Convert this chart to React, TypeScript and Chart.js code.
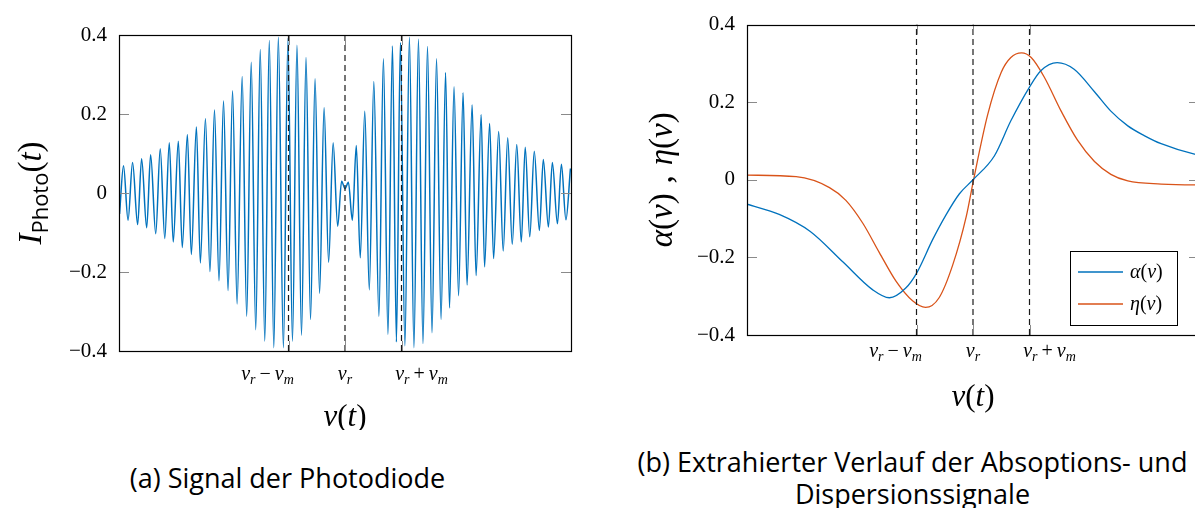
import React, { useEffect, useRef } from 'react';
import { Chart, registerables } from 'chart.js';

Chart.register(...registerables);

// ---------- data ----------
const xMin = -4;
const xMax = 4;
const yMin = -0.4;
const yMax = 0.4;
const yStep = 0.2;

const markerX = [-1, 0, 1];
const markerLabels = ['ν_r − ν_m', 'ν_r', 'ν_r + ν_m'];

// photodiode signal (extrema)
const signalX = [-3.99, -3.92, -3.84, -3.76, -3.67, -3.6, -3.51, -3.44, -3.35, -3.27, -3.19, -3.11, -3.04, -2.95, -2.88, -2.79, -2.72, -2.63, -2.56, -2.47, -2.39, -2.31, -2.23, -2.15, -2.07, -1.99, -1.91, -1.82, -1.74, -1.66, -1.58, -1.5, -1.42, -1.34, -1.26, -1.18, -1.09, -1.01, -0.93, -0.85, -0.77, -0.69, -0.61, -0.53, -0.45, -0.37, -0.29, -0.21, -0.13, -0.06, 0.0, 0.06, 0.13, 0.2, 0.27, 0.35, 0.43, 0.51, 0.6, 0.68, 0.76, 0.84, 0.91, 0.98, 1.06, 1.14, 1.22, 1.3, 1.38, 1.46, 1.54, 1.62, 1.7, 1.78, 1.85, 1.93, 2.01, 2.09, 2.16, 2.25, 2.32, 2.41, 2.47, 2.56, 2.63, 2.72, 2.8, 2.88, 2.96, 3.04, 3.12, 3.19, 3.27, 3.35, 3.44, 3.51, 3.6, 3.67, 3.76, 3.83, 3.91, 3.99];
const signalY = [-0.053, 0.069, -0.069, 0.077, -0.08, 0.087, -0.088, 0.097, -0.103, 0.112, -0.115, 0.127, -0.124, 0.131, -0.138, 0.148, -0.156, 0.167, -0.177, 0.188, -0.199, 0.21, -0.222, 0.233, -0.247, 0.259, -0.281, 0.295, -0.312, 0.331, -0.346, 0.363, -0.375, 0.386, -0.392, 0.394, -0.392, 0.391, -0.375, 0.374, -0.36, 0.343, -0.32, 0.289, -0.254, 0.216, -0.175, 0.127, -0.084, 0.03, 0.011, 0.027, -0.069, 0.12, -0.164, 0.207, -0.245, 0.282, -0.312, 0.34, -0.358, 0.372, -0.377, 0.381, -0.387, 0.394, -0.392, 0.389, -0.381, 0.371, -0.354, 0.34, -0.32, 0.305, -0.291, 0.269, -0.26, 0.254, -0.233, 0.223, -0.209, 0.198, -0.187, 0.176, -0.166, 0.156, -0.147, 0.14, -0.13, 0.123, -0.124, 0.116, -0.111, 0.106, -0.095, 0.085, -0.086, 0.077, -0.078, 0.073, -0.068, 0.062];

// absorption alpha(nu)
const alphaX = [-4, -3.43, -2.88, -2.3, -1.78, -1.48, -1.19, -1.0, -0.71, -0.48, -0.24, 0, 0.38, 0.67, 1.0, 1.2, 1.49, 1.79, 2.15, 2.44, 2.74, 3.03, 3.33, 3.92, 4];
const alphaY = [-0.063, -0.089, -0.133, -0.212, -0.283, -0.304, -0.279, -0.241, -0.153, -0.091, -0.036, 0, 0.062, 0.152, 0.239, 0.281, 0.302, 0.285, 0.227, 0.177, 0.139, 0.114, 0.093, 0.066, 0.064];

// dispersion eta(nu)
const etaX = [-4, -3.13, -2.54, -2.25, -1.95, -1.66, -1.36, -1.07, -0.84, -0.6, -0.36, -0.12, 0.01, 0.26, 0.5, 0.67, 0.86, 1.03, 1.26, 1.56, 1.85, 2.15, 2.44, 2.74, 3.33, 3.92, 4];
const etaY = [0.012, 0.008, -0.02, -0.053, -0.112, -0.187, -0.262, -0.312, -0.329, -0.304, -0.22, -0.095, 0, 0.168, 0.277, 0.315, 0.327, 0.315, 0.265, 0.177, 0.102, 0.047, 0.014, -0.003, -0.011, -0.013, -0.013];

const seriesLabels = ['α(ν)', 'η(ν)'];
const xTitle = 'ν(t)';
const yTitleB = 'α(ν) , η(ν)';
const captionA = '(a) Signal der Photodiode';
const captionB1 = '(b) Extrahierter Verlauf der Absoptions- und';
const captionB2 = 'Dispersionssignale';

// ---------- styling ----------
const BLUE = '#0072BD';
const ORANGE = '#D95319';
const SERIF = '"Liberation Serif", "DejaVu Serif", serif';
const SANS = '"Open Sans", "Liberation Sans", sans-serif';
const TICK_FONT = 21;
const MARKER_FONT = 20;
const markerLabelShift = [-21, 0, 20];

type Run = { t: string; f: string; dy?: number; w?: number };

function mathRuns(str: string, size: number, space = 0.22): Run[] {
  const runs: Run[] = [];
  for (let i = 0; i < str.length; i++) {
    const c = str[i];
    if (c === '_') {
      const s = str[i + 1];
      runs.push({ t: s, f: `italic ${Math.round(size * 0.7)}px ${SERIF}`, dy: size * 0.22 });
      i++;
      continue;
    }
    if (c === ' ') {
      runs.push({ t: '', f: `${size}px ${SERIF}`, w: size * space });
      continue;
    }
    if (/[A-Za-zα-ωΑ-Ω]/.test(c)) runs.push({ t: c, f: `italic ${size}px ${SERIF}` });
    else runs.push({ t: c, f: `${size}px ${SERIF}` });
  }
  return runs;
}

function runWidth(ctx: CanvasRenderingContext2D, r: Run) {
  if (r.w !== undefined) return r.w;
  ctx.font = r.f;
  return ctx.measureText(r.t).width;
}

function drawRuns(ctx: CanvasRenderingContext2D, runs: Run[], x: number, y: number, align: 'center' | 'left') {
  ctx.textBaseline = 'alphabetic';
  ctx.textAlign = 'left';
  let total = 0;
  for (const r of runs) total += runWidth(ctx, r);
  let cx = align === 'center' ? x - total / 2 : x;
  for (const r of runs) {
    const w = runWidth(ctx, r);
    if (r.t) {
      ctx.font = r.f;
      ctx.fillText(r.t, cx, y + (r.dy || 0));
    }
    cx += w;
  }
}

function fmtTick(v: number | string) {
  const n = Number(v);
  if (Math.abs(n) < 1e-9) return '0';
  return (n < 0 ? '\u2212' : '') + Math.abs(n).toFixed(1);
}

type DecorCfg = {
  tickLabelDy: number;
  titleDy: number;
  yTitle: Run[];
  yTitleX: number;
  legend: boolean;
};

function decorPlugin(cfg: DecorCfg) {
  return {
    id: 'decor',
    afterDatasetsDraw(chart: any) {
      const ctx: CanvasRenderingContext2D = chart.ctx;
      const a = chart.chartArea;
      const xs = chart.scales.x;
      const ys = chart.scales.y;
      ctx.save();
      // inward ticks
      ctx.strokeStyle = '#8a8a8a';
      ctx.lineWidth = 1;
      ctx.beginPath();
      for (const t of ys.ticks) {
        const py = Math.round(ys.getPixelForValue(t.value)) + 0.5;
        ctx.moveTo(a.left, py);
        ctx.lineTo(a.left + 10, py);
        ctx.moveTo(a.right, py);
        ctx.lineTo(a.right - 10, py);
      }
      for (const v of markerX) {
        const px = Math.round(xs.getPixelForValue(v)) + 0.5;
        ctx.moveTo(px, a.bottom);
        ctx.lineTo(px, a.bottom - 10);
        ctx.moveTo(px, a.top);
        ctx.lineTo(px, a.top + 10);
      }
      ctx.stroke();
      // frame
      ctx.strokeStyle = '#000';
      ctx.lineWidth = 1.2;
      ctx.strokeRect(Math.round(a.left) + 0.5, Math.round(a.top) + 0.5, Math.round(a.right - a.left), Math.round(a.bottom - a.top));
      // x tick labels
      ctx.fillStyle = '#000';
      markerX.forEach((v, i) => {
        drawRuns(ctx, mathRuns(markerLabels[i], MARKER_FONT, 0.2), xs.getPixelForValue(v) + markerLabelShift[i], a.bottom + cfg.tickLabelDy, 'center');
      });
      // x title
      drawRuns(ctx, mathRuns(xTitle, 31), xs.getPixelForValue(0), a.bottom + cfg.titleDy, 'center');
      // y title
      ctx.save();
      ctx.translate(cfg.yTitleX, (a.top + a.bottom) / 2);
      ctx.rotate(-Math.PI / 2);
      drawRuns(ctx, cfg.yTitle, 0, 10, 'center');
      ctx.restore();
      // legend
      if (cfg.legend) {
        const w = 107;
        const h = 74;
        const bx = a.right - 22 - w;
        const by = a.bottom - 10 - h;
        ctx.fillStyle = '#fff';
        ctx.fillRect(bx, by, w, h);
        ctx.strokeStyle = '#000';
        ctx.lineWidth = 1;
        ctx.strokeRect(Math.round(bx) + 0.5, Math.round(by) + 0.5, w, h);
        const ds = chart.data.datasets.filter((d: any) => d.inLegend);
        ds.forEach((d: any, i: number) => {
          const ly = by + 21 + i * 32;
          ctx.strokeStyle = d.borderColor;
          ctx.lineWidth = 1.3;
          ctx.beginPath();
          ctx.moveTo(bx + 8, ly);
          ctx.lineTo(bx + 53, ly);
          ctx.stroke();
          ctx.fillStyle = '#000';
          drawRuns(ctx, mathRuns(d.label, 20), bx + 60, ly + 6, 'left');
        });
      }
      ctx.restore();
    },
  };
}

function markerDatasets() {
  return markerX.map((v) => ({
    label: 'marker',
    data: [
      { x: v, y: yMin },
      { x: v, y: yMax },
    ],
    borderColor: '#1a1a1a',
    borderWidth: 1.2,
    borderDash: [6, 4],
    pointRadius: 0,
    order: 0,
  }));
}

function baseOptions(yWidth: number, padding: any) {
  return {
    responsive: false,
    animation: false as const,
    events: [],
    layout: { padding },
    plugins: { legend: { display: false }, tooltip: { enabled: false } },
    scales: {
      x: {
        type: 'linear' as const,
        min: xMin,
        max: xMax,
        ticks: { display: false },
        grid: { display: false },
        border: { display: false },
        afterFit: (s: any) => {
          s.height = 0;
        },
      },
      y: {
        type: 'linear' as const,
        min: yMin,
        max: yMax,
        ticks: {
          stepSize: yStep,
          padding: 12,
          color: '#000',
          font: { family: SERIF, size: TICK_FONT },
          callback: fmtTick,
        },
        grid: { display: false, drawTicks: false },
        border: { display: false },
        afterFit: (s: any) => {
          s.width = yWidth;
        },
      },
    },
  };
}

function SignalChart() {
  const ref = useRef<HTMLCanvasElement>(null);
  useEffect(() => {
    const yTitle: Run[] = [
      { t: 'I', f: `italic 33px ${SERIF}` },
      { t: 'Photo', f: `22px ${SANS}`, dy: 7 },
      { t: '(', f: `33px ${SERIF}` },
      { t: 't', f: `italic 33px ${SERIF}` },
      { t: ')', f: `33px ${SERIF}` },
    ];
    const chart = new Chart(ref.current!, {
      type: 'line',
      data: {
        datasets: [
          ...markerDatasets(),
          {
            label: 'signal',
            data: signalX.map((x, i) => ({ x, y: signalY[i] })),
            borderColor: BLUE,
            borderWidth: 1.5,
            pointRadius: 0,
            cubicInterpolationMode: 'monotone',
            order: 1,
          },
        ] as any,
      },
      options: baseOptions(119, { left: 0, top: 35, right: 29, bottom: 79 }) as any,
      plugins: [decorPlugin({ tickLabelDy: 29, titleDy: 75, yTitle, yTitleX: 31, legend: false })],
    });
    return () => chart.destroy();
  }, []);
  return <canvas ref={ref} width={600} height={430} style={{ position: 'absolute', left: 0, top: 0 }} />;
}

function SpectrumChart() {
  const ref = useRef<HTMLCanvasElement>(null);
  useEffect(() => {
    const yTitle = mathRuns(yTitleB, 33, 0.3);
    const chart = new Chart(ref.current!, {
      type: 'line',
      data: {
        datasets: [
          ...markerDatasets(),
          {
            label: seriesLabels[0],
            inLegend: true,
            data: alphaX.map((x, i) => ({ x, y: alphaY[i] })),
            borderColor: BLUE,
            borderWidth: 1.3,
            pointRadius: 0,
            cubicInterpolationMode: 'monotone',
            order: 1,
          },
          {
            label: seriesLabels[1],
            inLegend: true,
            data: etaX.map((x, i) => ({ x, y: etaY[i] })),
            borderColor: ORANGE,
            borderWidth: 1.3,
            pointRadius: 0,
            cubicInterpolationMode: 'monotone',
            order: 1,
          },
        ] as any,
      },
      options: baseOptions(147, { left: 0, top: 16, right: 11, bottom: 95 }) as any,
      plugins: [decorPlugin({ tickLabelDy: 22, titleDy: 71, yTitle, yTitleX: 62, legend: true })],
    });
    return () => chart.destroy();
  }, []);
  return <canvas ref={ref} width={610} height={430} style={{ position: 'absolute', left: 600, top: 0 }} />;
}

export default function App() {
  const cap: React.CSSProperties = {
    position: 'absolute',
    fontFamily: SANS,
    fontSize: 27,
    lineHeight: '32px',
    textAlign: 'center',
    color: '#000',
    whiteSpace: 'nowrap',
  };
  return (
    <div style={{ position: 'absolute', left: 0, top: 0, width: 1195, height: 508, overflow: 'hidden', background: '#fff' }}>
      <SignalChart />
      <SpectrumChart />
      <div style={{ ...cap, left: 0, width: 575, top: 462 }}>{captionA}</div>
      <div style={{ ...cap, left: 620, width: 585, top: 446 }}>
        {captionB1}
        <br />
        {captionB2}
      </div>
    </div>
  );
}
